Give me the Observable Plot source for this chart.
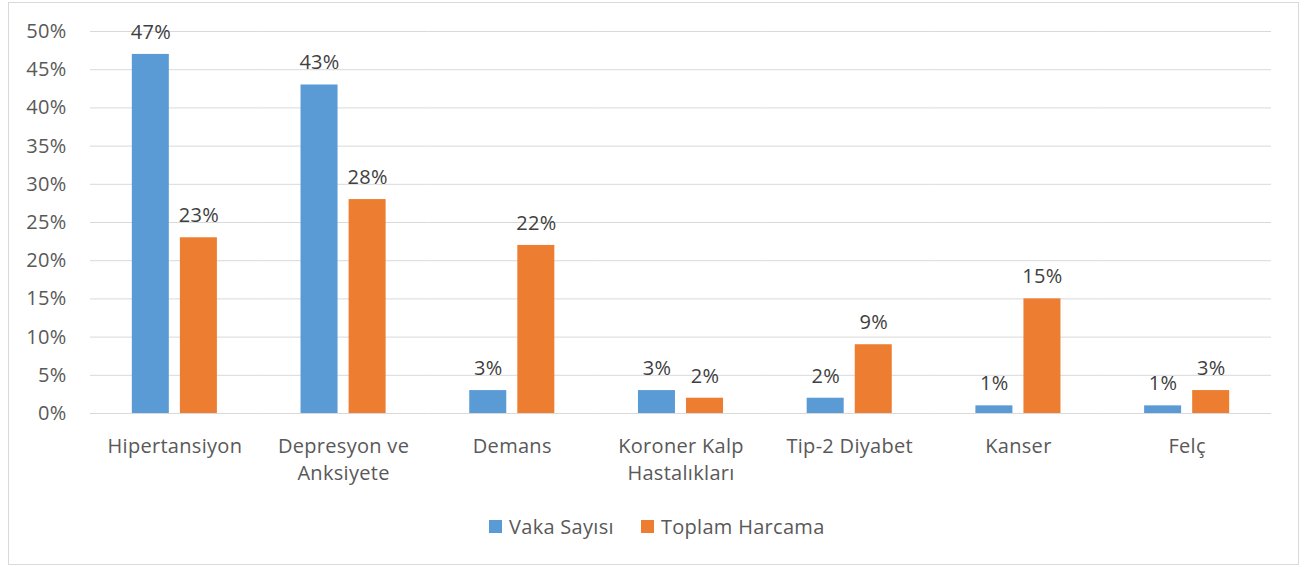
<!DOCTYPE html>
<html><head><meta charset="utf-8">
<script src="https://cdn.jsdelivr.net/npm/d3@7"></script>
<script src="https://cdn.jsdelivr.net/npm/@observablehq/plot@0.6"></script>
<style>
body{margin:0;background:#fff;font-family:"Open Sans",sans-serif;}
#wrap{position:relative;width:1308px;height:567px;}
#border{position:absolute;left:8px;top:2px;width:1291px;height:563px;border:1px solid #d9d9d9;box-sizing:border-box;}
#chart{position:absolute;left:0;top:0;}
#chart svg text{letter-spacing:0.3px;}
#legend{position:absolute;top:513px;left:489px;font-size:20px;letter-spacing:0.3px;color:#595959;display:flex;align-items:center;white-space:nowrap;}
.sw{display:inline-block;width:13px;height:13px;margin-right:7px;}
</style></head><body>
<div id="wrap"><div id="border"></div><div id="chart"></div>
<div id="legend"><span class="sw" style="background:#5B9BD5"></span><span>Vaka Sayısı</span><span class="sw" style="background:#ED7D31;margin-left:27px"></span><span>Toplam Harcama</span></div>
</div>
<script>
const categories = ["Hipertansiyon","Depresyon ve\nAnksiyete","Demans","Koroner Kalp\nHastalıkları","Tip-2 Diyabet","Kanser","Felç"];
const series = ["Vaka Sayısı","Toplam Harcama"];
const vaka = [47,43,3,3,2,1,1];
const harcama = [23,28,22,2,9,15,3];
const yTicks = [0,5,10,15,20,25,30,35,40,45,50];
const colors = ["#5B9BD5","#ED7D31"];

const data = [];
categories.forEach((c,i)=>{
  data.push({cat:c, s:series[0], v:vaka[i]});
  data.push({cat:c, s:series[1], v:harcama[i]});
});

const chart = Plot.plot({
  width:1308, height:567,
  marginTop:31, marginBottom:154, marginLeft:90, marginRight:37,
  style:{fontFamily:'"Open Sans",sans-serif', fontSize:"20px", color:"#595959", background:"transparent"},
  fx:{domain:categories, padding:0, label:null, axis:null, round:false},
  x:{domain:series, paddingInner:0.23, paddingOuter:0.87, axis:null, round:false},
  y:{domain:[0,50], ticks:yTicks, label:null, axis:null},
  color:{domain:series, range:colors},
  marks:[
    Plot.gridY(yTicks,{stroke:"#d9d9d9", strokeOpacity:1, strokeWidth:1}),
    Plot.barY(data,{fx:"cat", x:"s", y:"v", fill:"s"}),
    Plot.text(data,{fx:"cat", x:"s", y:"v", text:d=>d.v+"%", dy:-22, fill:"#404040", fontSize:20}),
    Plot.axisY(yTicks,{anchor:"left", tickSize:0, tickPadding:24, tickFormat:d=>d+"%", fontSize:20, fill:"#595959", label:null}),
    Plot.axisFx({anchor:"bottom", tickSize:0, tickPadding:20, fontSize:20, lineHeight:1.35, fill:"#595959", textAnchor:"middle", label:null})
  ]
});
document.getElementById("chart").appendChild(chart);
</script></body></html>
